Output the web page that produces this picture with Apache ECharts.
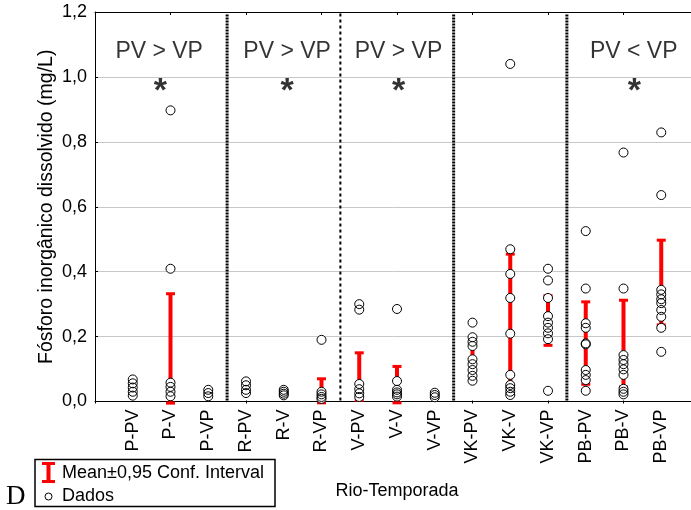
<!DOCTYPE html>
<html>
<head>
<meta charset="utf-8">
<script src="https://cdn.jsdelivr.net/npm/echarts@6.0.0/dist/echarts.min.js"></script>
<style>
  html, body { margin: 0; padding: 0; background: #fff; overflow: hidden; }
  #chart { width: 691px; height: 510px; }
</style>
</head>
<body>
<div id="chart"></div>
<script>
// River / season combinations along the x axis
const categories = ['P-PV', 'P-V', 'P-VP', 'R-PV', 'R-V', 'R-VP', 'V-PV', 'V-V', 'V-VP',
  'VK-PV', 'VK-V', 'VK-VP', 'PB-PV', 'PB-V', 'PB-VP'];

// Individual measurements (mg/L), one list per category
const dados = [
  [0.068, 0.056, 0.043, 0.030, 0.018],
  [0.897, 0.409, 0.058, 0.045, 0.030, 0.016],
  [0.036, 0.026, 0.016],
  [0.062, 0.050, 0.036, 0.026],
  [0.036, 0.030, 0.024, 0.019],
  [0.190, 0.030, 0.022, 0.014, 0.008],
  [0.300, 0.283, 0.054, 0.038, 0.025, 0.014],
  [0.285, 0.063, 0.036, 0.028, 0.022, 0.015],
  [0.027, 0.020, 0.013],
  [0.243, 0.198, 0.184, 0.171, 0.130, 0.115, 0.097, 0.079, 0.064],
  [1.040, 0.469, 0.393, 0.319, 0.209, 0.082, 0.051, 0.041, 0.030, 0.020],
  [0.409, 0.373, 0.319, 0.263, 0.243, 0.227, 0.210, 0.192, 0.033],
  [0.525, 0.348, 0.241, 0.227, 0.179, 0.176, 0.097, 0.082, 0.066, 0.033],
  [0.767, 0.348, 0.143, 0.128, 0.115, 0.099, 0.082, 0.039, 0.030, 0.022],
  [0.829, 0.636, 0.344, 0.330, 0.315, 0.303, 0.282, 0.261, 0.227, 0.153]
];

// 95% confidence interval of the mean (null where it hides behind the points)
const ciLow  = [null, -0.005, null, null, null, -0.004, 0.004, -0.004, null, 0.095, 0.045, 0.173, 0.053, 0.045, 0.236];
const ciHigh = [null, 0.332, null, null, null, 0.070, 0.150, 0.108, null, 0.195, 0.454, 0.326, 0.307, 0.312, 0.497];

// Y axis ticks
const yTicks = [0, 0.2, 0.4, 0.6, 0.8, 1.0, 1.2];

// Index of the last category of each river (separators go after them)
const riverEnds = [3, 6, 9, 12];

// Significance notes per river
const notes = [
  { text: 'PV > VP', river: 'P' },
  { text: 'PV > VP', river: 'R' },
  { text: 'PV > VP', river: 'V' },
  { text: 'PV < VP', river: 'PB' }
];

const FONT = '"Liberation Sans", Arial, sans-serif';
const RED = '#ff0000';

const chart = echarts.init(document.getElementById('chart'), null, { renderer: 'canvas' });

// points as [x, value]
const points = [];
dados.forEach((vals, i) => vals.forEach(v => points.push([i + 1, v])));

const ciData = [];
categories.forEach((c, i) => {
  if (ciLow[i] !== null) ciData.push([i + 1, ciLow[i], ciHigh[i]]);
});

// dotted separator lines between rivers
const sepSeries = riverEnds.map((e, k) => ({
  type: 'line',
  xAxisIndex: 0,
  data: [[e + 0.5, 0.003], [e + 0.5, 1.195]],
  symbol: 'none',
  silent: true,
  z: 1,
  lineStyle: k === 1
    ? { color: '#000', width: 2, type: [3, 3] }
    : { color: '#000', width: 3, type: [2, 1] }
}));

// horizontal placement of the notes, in x-axis units
const noteX = { P: 1.70, R: 5.09, V: 8.04, PB: 14.27 };
const starX = { P: 1.73, R: 5.09, V: 8.04, PB: 14.29 };

const option = {
  animation: false,
  backgroundColor: '#fff',
  grid: { left: 95, top: 12, width: 604, bottom: 108.5, containLabel: false, outerBoundsMode: 'none' },
  xAxis: [
    {
      type: 'value', min: 0, max: 16, interval: 1, position: 'bottom', offset: 2,
      axisLine: { show: true, lineStyle: { color: '#000', width: 1 } },
      axisTick: { show: false },
      splitLine: { show: false },
      axisLabel: {
        rotate: 90, fontSize: 18, fontFamily: FONT, color: '#000', margin: 6,
        formatter: v => categories[v - 1] || ''
      },
      name: 'Rio-Temporada', nameLocation: 'middle', nameGap: 79, nameMoveOverlap: false,
      nameTextStyle: { fontSize: 18, fontFamily: FONT, color: '#000' }
    },
    {
      type: 'value', min: 0, max: 16, interval: 2, position: 'top',
      axisLine: { show: true, lineStyle: { color: '#000', width: 1 } },
      axisTick: { show: true, inside: true, length: 3, lineStyle: { color: '#000' } },
      axisLabel: { show: false }, splitLine: { show: false }
    },
    {
      type: 'value', min: 0, max: 16, interval: 2, position: 'bottom', offset: 2,
      axisLine: { show: false },
      axisTick: { show: true, inside: true, length: 3, lineStyle: { color: '#000' } },
      axisLabel: { show: false }, splitLine: { show: false }
    }
  ],
  yAxis: {
    type: 'value', min: yTicks[0], max: yTicks[yTicks.length - 1], interval: 0.2,
    axisLine: { show: true, lineStyle: { color: '#000', width: 1 } },
    axisTick: { show: true, inside: true, length: 3, lineStyle: { color: '#000' } },
    splitLine: { show: true, lineStyle: { color: '#c8c8c8', width: 1 } },
    axisLabel: {
      fontSize: 18, fontFamily: FONT, color: '#000', margin: 8,
      formatter: v => v.toFixed(1).replace('.', ',')
    },
    name: 'Fósforo inorgânico dissolvido (mg/L)', nameLocation: 'middle', nameGap: 38, nameMoveOverlap: false,
    nameTextStyle: { fontSize: 19.5, fontFamily: FONT, color: '#000' }
  },
  series: [
    ...sepSeries,
    {
      type: 'custom',
      name: 'Mean±0,95 Conf. Interval',
      xAxisIndex: 0,
      clip: false,
      z: 3,
      data: ciData,
      renderItem: (params, api) => {
        const x = api.value(0);
        const lo = api.coord([x, api.value(1)]);
        const hi = api.coord([x, api.value(2)]);
        const bw = 4, cw = 9, ch = 3;
        return {
          type: 'group',
          children: [
            { type: 'rect', shape: { x: hi[0] - bw / 2, y: hi[1], width: bw, height: lo[1] - hi[1] }, style: { fill: RED } },
            { type: 'rect', shape: { x: hi[0] - cw / 2, y: hi[1] - ch / 2, width: cw, height: ch }, style: { fill: RED } },
            { type: 'rect', shape: { x: lo[0] - cw / 2, y: lo[1] - ch / 2, width: cw, height: ch }, style: { fill: RED } }
          ]
        };
      }
    },
    {
      // white discs under the outlines
      type: 'scatter', xAxisIndex: 0, data: points, symbol: 'circle', symbolSize: 9,
      itemStyle: { color: '#fff', borderWidth: 0, opacity: 1 }, z: 4, silent: true
    },
    {
      type: 'scatter', name: 'Dados', xAxisIndex: 0, data: points, symbol: 'circle', symbolSize: 9,
      itemStyle: { color: 'rgba(0,0,0,0)', borderColor: '#000', borderWidth: 1, opacity: 1 }, z: 5
    },
    {
      type: 'scatter', xAxisIndex: 0, symbolSize: 0, silent: true, z: 6,
      data: notes.map(n => ({ value: [noteX[n.river], 1.078], label: { formatter: n.text } })),
      label: { show: true, position: 'inside', fontSize: 23, fontFamily: FONT, color: '#000' }
    },
    {
      type: 'scatter', xAxisIndex: 0, symbolSize: 0, silent: true, z: 6,
      data: notes.map(n => ({ value: [starX[n.river], 0.955] })),
      label: { show: true, position: 'inside', formatter: '*', fontSize: 34, fontWeight: 'bold', fontFamily: FONT, color: '#000' }
    }
  ],
  graphic: [
    { type: 'rect', shape: { x: 35, y: 459.5, width: 240, height: 47 }, style: { fill: '#fff', stroke: '#000', lineWidth: 1.5 } },
    { type: 'rect', shape: { x: 46.5, y: 462, width: 4, height: 21 }, style: { fill: RED } },
    { type: 'rect', shape: { x: 42, y: 462, width: 13, height: 3 }, style: { fill: RED } },
    { type: 'rect', shape: { x: 42, y: 480, width: 13, height: 3 }, style: { fill: RED } },
    { type: 'text', x: 62, y: 473, style: { text: 'Mean±0,95 Conf. Interval', font: '18px ' + FONT, fill: '#000', verticalAlign: 'middle' } },
    { type: 'circle', shape: { cx: 48.5, cy: 496.5, r: 3.5 }, style: { fill: '#fff', stroke: '#000', lineWidth: 1 } },
    { type: 'text', x: 62, y: 496, style: { text: 'Dados', font: '18px ' + FONT, fill: '#000', verticalAlign: 'middle' } },
    { type: 'text', x: 6, y: 510, style: { text: 'D', font: '27px "Liberation Serif", "DejaVu Serif", serif', fill: '#000', verticalAlign: 'bottom' } }
  ]
};

chart.setOption(option);
</script>
</body>
</html>
